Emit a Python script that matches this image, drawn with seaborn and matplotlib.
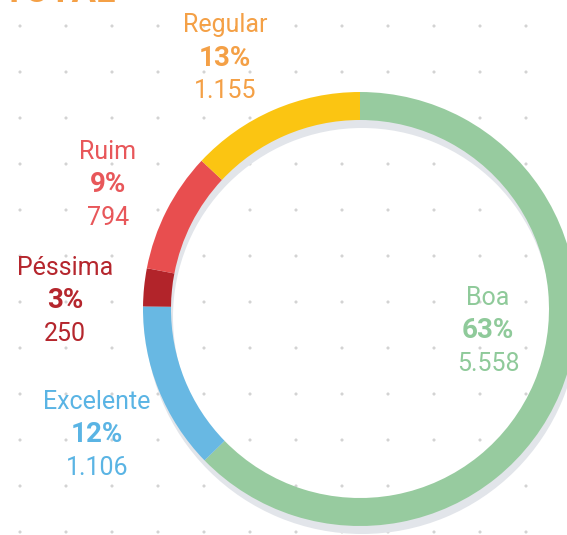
import matplotlib
matplotlib.use("Agg")
import matplotlib.pyplot as plt
import seaborn as sns
import numpy as np

sns.set_theme(style="white")
plt.rcParams['font.family'] = ['Roboto', 'DejaVu Sans']

categories = ["Boa", "Excelente", "Péssima", "Ruim", "Regular"]
counts = [5558, 1106, 250, 794, 1155]
percents = ["63%", "12%", "3%", "9%", "13%"]
count_labels = ["5.558", "1.106", "250", "794", "1.155"]

ring_colors = ["#97CB9F", "#68B8E3", "#B2242A", "#E84E4F", "#FBC512"]
text_colors = ["#8FCA9A", "#5AB4E4", "#B5262D", "#E8575A", "#F4A046"]
label_pos = {"Boa": (488, 298), "Excelente": (97, 402), "Péssima": (65, 268),
             "Ruim": (108, 152), "Regular": (225, 25)}

W, H = 567, 535
fig = plt.figure(figsize=(W / 100, H / 100), dpi=100)
ax = fig.add_axes([0, 0, 1, 1])

# dotted background grid
gx = np.arange(20, W, 46)
gy = np.arange(26, H, 46)
XX, YY = np.meshgrid(gx, gy)
sns.scatterplot(x=XX.ravel(), y=H - YY.ravel(), ax=ax, s=5, color="#D3D3D3",
                edgecolor="none", legend=False, zorder=1)

cx, cy, R, w = 360, H - 309, 217, 28
# shadow ring
ax.pie([1], radius=R, center=(362, cy - 8), colors=["#E2E5EA"],
       wedgeprops=dict(width=w, edgecolor="none"), frame=True)
ax.pie(counts, radius=R, center=(cx, cy), colors=ring_colors, startangle=90,
       counterclock=False, wedgeprops=dict(width=w, edgecolor="none"), frame=True)

for cat, pct, cl, col in zip(categories, percents, count_labels, text_colors):
    x, y = label_pos[cat]
    ax.text(x, H - y, cat, ha="center", va="center", fontsize=18, color=col)
    ax.text(x, H - y - 33, pct, ha="center", va="center", fontsize=20,
            fontweight="bold", color=col)
    ax.text(x, H - y - 66, cl, ha="center", va="center", fontsize=18, color=col)

# partially visible title at the top edge (cut off in the reference too)
ax.text(2, H - 2, "TOTAL", ha="left", va="baseline", fontsize=26,
        fontweight="bold", color="#F4A046", clip_on=True)

ax.set_xlim(0, W)
ax.set_ylim(0, H)
ax.set_aspect("equal")
ax.axis("off")
fig.savefig("out.png", dpi=100)
